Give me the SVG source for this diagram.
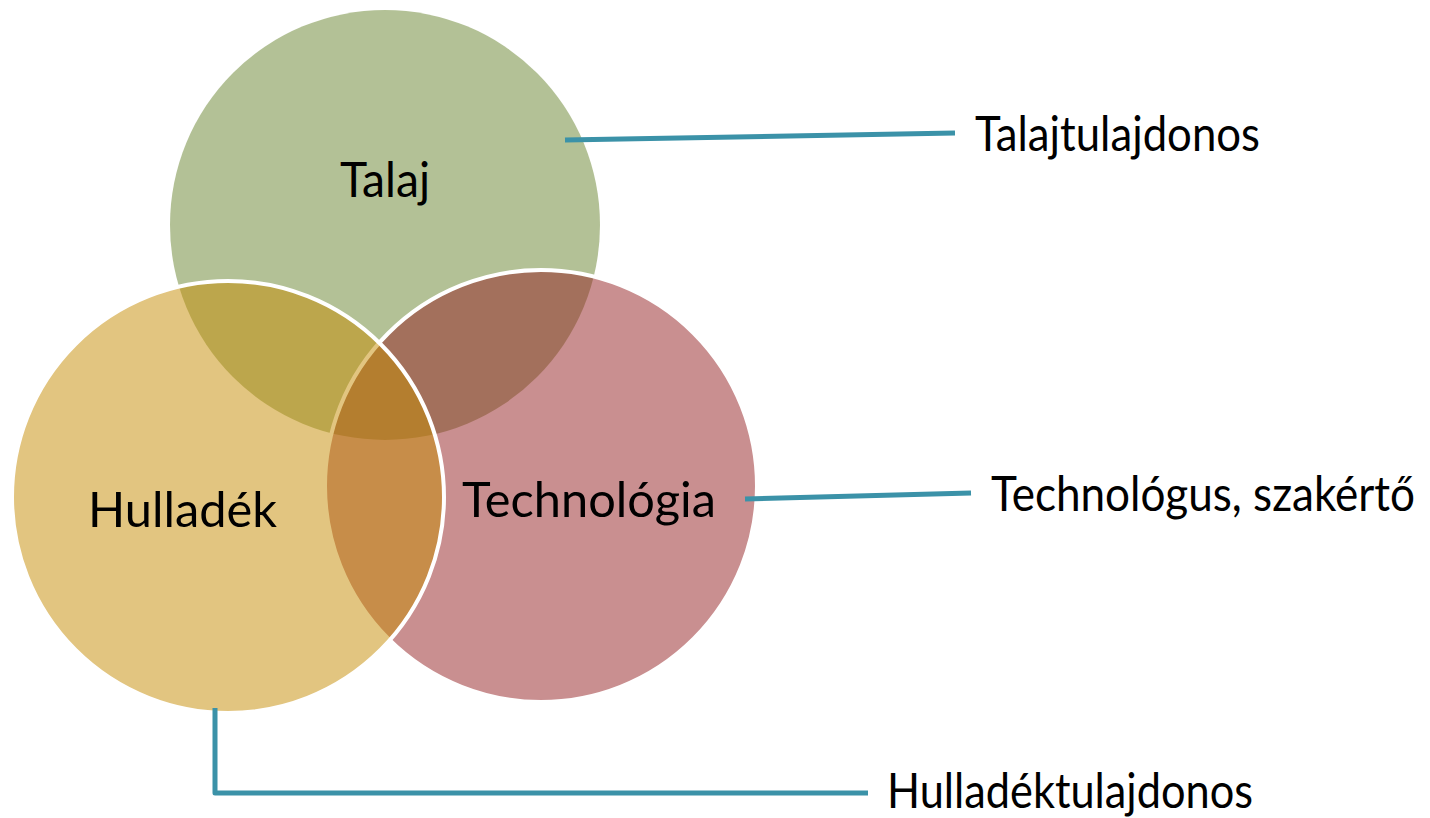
<svg xmlns="http://www.w3.org/2000/svg" width="1430" height="818" viewBox="0 0 1430 818">
  <style>
    .set { fill-opacity: 0.5; }
    .outlined { stroke: #ffffff; stroke-width: 4; }
    .label { font-family: Lato, "Open Sans", "Liberation Sans", sans-serif; font-size: 48px; fill: #000000; }
    .link { fill: none; stroke: #3b92a8; stroke-width: 5; stroke-linejoin: round; }
  </style>
  <rect width="1430" height="818" fill="#ffffff"/>

  <!-- Venn sets: translucent fills, later sets outlined in white -->
  <g id="node-talaj">
    <circle class="set" cx="385" cy="225" r="215" fill="#67832d"/>
    <text class="label" x="385" y="197" text-anchor="middle" textLength="90" lengthAdjust="spacingAndGlyphs">Talaj</text>
  </g>
  <g id="node-technologia">
    <circle class="set outlined" cx="541" cy="486" r="216" fill="#931f21"/>
    <text class="label" x="462" y="517" textLength="254" lengthAdjust="spacingAndGlyphs">Technológia</text>
  </g>
  <g id="node-hulladek">
    <circle class="set outlined" cx="228" cy="497" r="216" fill="#c58b01"/>
    <text class="label" x="88" y="527" textLength="189" lengthAdjust="spacingAndGlyphs">Hulladék</text>
  </g>

  <!-- connectors from each set to its stakeholder -->
  <g id="connectors">
    <path class="link" d="M565,140 L955,133"/>
    <path class="link" d="M745,499 L971,493"/>
    <path class="link" d="M215,708 V793 H868"/>
  </g>

  <!-- stakeholder labels -->
  <g id="node-talajtulajdonos">
    <text class="label" x="975" y="151" textLength="285" lengthAdjust="spacingAndGlyphs">Talajtulajdonos</text>
  </g>
  <g id="node-technologus">
    <text class="label" x="991" y="511" textLength="424" lengthAdjust="spacingAndGlyphs">Technológus, szakértő</text>
  </g>
  <g id="node-hulladektulajdonos">
    <text class="label" x="887" y="808" textLength="366" lengthAdjust="spacingAndGlyphs">Hulladéktulajdonos</text>
  </g>
</svg>
